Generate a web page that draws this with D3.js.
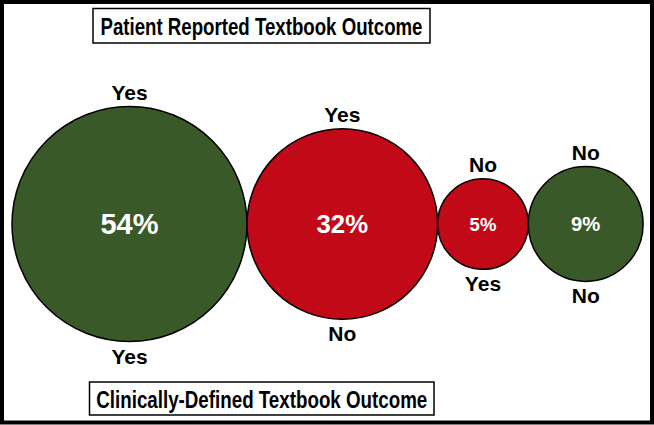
<!DOCTYPE html>
<html>
<head>
<meta charset="utf-8">
<script src="https://cdn.jsdelivr.net/npm/d3@7"></script>
<style>
  body { margin: 0; background: #fff; }
  text { font-family: "Liberation Sans", Arial, sans-serif; font-weight: bold; }
</style>
</head>
<body>
<svg width="654" height="425"></svg>
<script>
const width = 654;
const height = 425;

// share of patients in each group
const values = [54, 32, 5, 9];
const labels = ["54%", "32%", "5%", "9%"];
// patient reported outcome (top) vs clinically defined outcome (bottom)
const patient = ["Yes", "Yes", "No", "No"];
const clinical = ["Yes", "No", "Yes", "No"];

const topTitle = "Patient Reported Textbook Outcome";
const bottomTitle = "Clinically-Defined Textbook Outcome";

const svg = d3.select("svg");

// outer frame
svg.append("rect")
  .attr("x", 2)
  .attr("y", 2)
  .attr("width", width - 4)
  .attr("height", height - 4.5)
  .attr("fill", "#fff")
  .attr("stroke", "#000")
  .attr("stroke-width", 4);

// radius scale
const r = d3.scalePow()
  .exponent(0.4)
  .domain([0, 54])
  .range([0, 117.5]);

const fontSize = d3.scaleLinear()
  .domain([r(5), r(54)])
  .range([18.5, 29]);

// green when both agree, red otherwise
const color = d3.scaleOrdinal()
  .domain([true, false])
  .range(["#3a5928", "#c10918"]);

const cy = 224;
let xPos = 12;
const data = values.map((v, i) => {
  const rad = r(v);
  const d = {
    value: v,
    label: labels[i],
    patient: patient[i],
    clinical: clinical[i],
    r: rad,
    cx: xPos + rad
  };
  xPos += rad * 2;
  return d;
});

const g = svg.selectAll(".bubble")
  .data(data)
  .enter().append("g")
  .attr("class", "bubble");

g.append("circle")
  .attr("cx", d => d.cx)
  .attr("cy", cy)
  .attr("r", d => d.r)
  .attr("fill", d => color(d.patient === d.clinical))
  .attr("stroke", "#000")
  .attr("stroke-width", 1.5);

g.append("text")
  .attr("x", d => d.cx)
  .attr("y", cy)
  .attr("dy", "0.36em")
  .attr("text-anchor", "middle")
  .attr("fill", "#fff")
  .attr("font-size", d => fontSize(d.r))
  .text(d => d.label);

g.append("text")
  .attr("x", d => d.cx)
  .attr("y", d => cy - d.r - 7)
  .attr("text-anchor", "middle")
  .attr("font-size", 21)
  .text(d => d.patient);

g.append("text")
  .attr("x", d => d.cx)
  .attr("y", d => cy + d.r + 22)
  .attr("text-anchor", "middle")
  .attr("font-size", 21)
  .text(d => d.clinical);

// title boxes
function titleBox(txt, x, y, w, h, tw, base) {
  svg.append("rect")
    .attr("x", x)
    .attr("y", y)
    .attr("width", w)
    .attr("height", h)
    .attr("fill", "#fff")
    .attr("stroke", "#000")
    .attr("stroke-width", 1.5);
  svg.append("text")
    .attr("x", x + w / 2)
    .attr("y", base)
    .attr("text-anchor", "middle")
    .attr("font-size", 24)
    .attr("textLength", tw)
    .attr("lengthAdjust", "spacingAndGlyphs")
    .text(txt);
}

titleBox(topTitle, 93, 8.5, 337, 34.5, 322, 35);
titleBox(bottomTitle, 89.5, 382, 344.5, 33, 331, 408);
</script>
</body>
</html>
